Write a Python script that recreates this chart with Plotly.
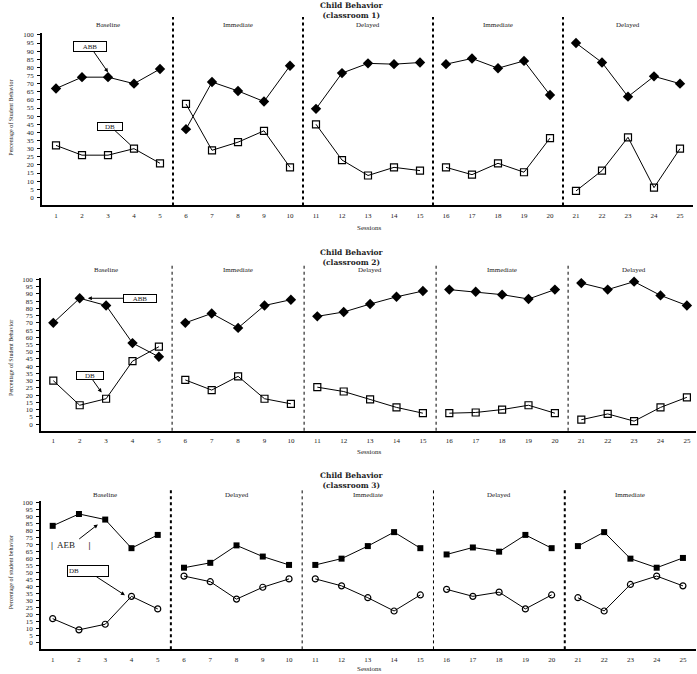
import plotly.graph_objects as go

W, H = 697, 674

sessions = list(range(1, 26))
phase_len = [5, 5, 5, 5, 5]
ytick_vals = list(range(0, 101, 5))

# Classroom 1
c1_phases = ["Baseline", "Immediate", "Delayed", "Immediate", "Delayed"]
c1_abb = [67, 74, 74, 70, 79, 42, 71, 65.5, 59, 81, 54.5, 76.5, 82.5, 82, 83,
          82, 85.5, 79.5, 84, 63, 95, 83, 62, 74.5, 70]
c1_db = [32, 26, 26, 30, 21, 57.5, 29, 34, 41, 18.5, 45, 23, 13.5, 18.5, 16.5,
         18.5, 14, 21, 15.5, 36.5, 4, 16.5, 37, 6, 30]

# Classroom 2
c2_phases = ["Baseline", "Immediate", "Delayed", "Immediate", "Delayed"]
c2_abb = [70, 87, 82, 56, 46.5, 70, 76.5, 66.5, 82, 86, 74.5, 77.5, 83, 88, 92,
          93, 91.5, 89.5, 86.5, 93, 97.5, 93, 98.5, 89, 82]
c2_db = [30, 13, 17.5, 43.5, 53.5, 30.5, 23.5, 33, 17.5, 14, 25.5, 22.5, 17, 11.5, 7.5,
         7.5, 8, 10, 13, 7.5, 3, 7, 2, 11.5, 18.5]

# Classroom 3
c3_phases = ["Baseline", "Delayed", "Immediate", "Delayed", "Immediate"]
c3_abb = [83.5, 92, 88, 67.5, 77, 53.5, 57, 69.5, 61.5, 55.5, 55.5, 60, 69, 79, 67.5,
          63, 68, 65, 77, 67.5, 69, 79, 60, 53.5, 60.5]
c3_db = [17, 9, 13, 33, 24, 47.5, 43.5, 31, 39.5, 45.5, 45.5, 40.5, 32, 22.5, 34,
         38, 33, 36, 24, 34, 32, 22.5, 41.5, 47.5, 40.5]

SERIF = "Liberation Serif"
TSERIF = "DejaVu Serif"

panels = [
    dict(abb=c1_abb, db=c1_db, phases=c1_phases, room="(classroom 1)",
         x0=42, x1=693, s1=56, ds=26, y0=196, ppu=1.63, ybot=204,
         abb_sym="diamond", abb_size=8, db_sym="square-open", db_size=7,
         div_top=15, title_y=9, phase_y=23, sess_y=227,
         div_w=[2, 2, 2, 2], ytitle="Percentage of Student Behavior", ytitle_y=116),
    dict(abb=c2_abb, db=c2_db, phases=c2_phases, room="(classroom 2)",
         x0=41, x1=696, s1=53.3, ds=26.4, y0=423.3, ppu=1.45, ybot=430,
         abb_sym="diamond", abb_size=8, db_sym="square-open", db_size=7,
         div_top=263, title_y=256, phase_y=269, sess_y=451,
         div_w=[1, 1, 1, 1], ytitle="Percentage of Student Behavior", ytitle_y=357),
    dict(abb=c3_abb, db=c3_db, phases=c3_phases, room="(classroom 3)",
         x0=41, x1=696, s1=52.7, ds=26.26, y0=642.3, ppu=1.4, ybot=649.3,
         abb_sym="square", abb_size=6, db_sym="circle-open", db_size=6,
         div_top=487, title_y=480, phase_y=494, sess_y=669,
         div_w=[2, 1, 1, 2], ytitle="Percentage of student behavior", ytitle_y=572),
]

fig = go.Figure()
annotations = []
shapes = []

def px(x):
    return x / W

def py(y):
    return 1 - y / H

for i, p in enumerate(panels, start=1):
    sfx = "" if i == 1 else str(i)
    xr = [1 + (p["x0"] - p["s1"]) / p["ds"], 1 + (p["x1"] - p["s1"]) / p["ds"]]
    ymin = -(p["ybot"] - p["y0"]) / p["ppu"]
    ymax = 101
    ytop_px = p["y0"] - ymax * p["ppu"]
    xa = "x" + sfx
    ya = "y" + sfx

    start = 0
    bounds = []
    for n in phase_len:
        bounds.append((start, start + n))
        start += n

    for (a, b) in bounds:
        fig.add_trace(go.Scatter(x=sessions[a:b], y=p["abb"][a:b], mode="lines+markers",
                                 line=dict(color="black", width=1),
                                 marker=dict(symbol=p["abb_sym"], size=p["abb_size"], color="black"),
                                 xaxis=xa, yaxis=ya, showlegend=False, cliponaxis=False))
        fig.add_trace(go.Scatter(x=sessions[a:b], y=p["db"][a:b], mode="lines+markers",
                                 line=dict(color="black", width=1),
                                 marker=dict(symbol=p["db_sym"], size=p["db_size"], color="black",
                                             line=dict(width=1.2)),
                                 xaxis=xa, yaxis=ya, showlegend=False, cliponaxis=False))

    fig.layout["xaxis" + sfx] = dict(
        domain=[px(p["x0"]), px(p["x1"])], range=xr, anchor=ya,
        tickvals=sessions, ticks="", showgrid=False, zeroline=False,
        showline=True, linecolor="black", linewidth=1.5,
        tickfont=dict(family=SERIF, size=7, color="#222"), ticklabelstandoff=2)
    fig.layout["yaxis" + sfx] = dict(
        domain=[py(p["ybot"]), py(ytop_px)], range=[ymin, ymax], anchor=xa,
        tickvals=ytick_vals, ticks="outside", ticklen=3, tickcolor="black",
        showgrid=False, zeroline=False, showline=True, linecolor="black", linewidth=1.5,
        tickfont=dict(family=SERIF, size=7, color="#222"), ticklabelstandoff=2)

    # phase dividers and labels
    for k, (a, b) in enumerate(bounds):
        annotations.append(dict(x=(sessions[a] + sessions[b - 1]) / 2, y=py(p["phase_y"]),
                                xref=xa, yref="paper",
                                text=p["phases"][k], showarrow=False,
                                font=dict(family=SERIF, size=7, color="#222"),
                                xanchor="center", yanchor="middle"))
        if k < len(bounds) - 1:
            xd = (sessions[b - 1] + sessions[b]) / 2
            shapes.append(dict(type="line", xref=xa, yref="paper",
                               x0=xd, x1=xd, y0=py(p["ybot"]), y1=py(p["div_top"]),
                               line=dict(color="black", width=p["div_w"][k], dash="dot")))
    # titles
    annotations.append(dict(x=px(352), y=py(p["title_y"]), xref="paper", yref="paper",
                            text="<b>Child Behavior</b><br><b>" + p["room"] + "</b>",
                            showarrow=False,
                            font=dict(family=TSERIF, size=7.5, color="#222"),
                            xanchor="center", yanchor="middle"))
    annotations.append(dict(x=px(369), y=py(p["sess_y"]), xref="paper", yref="paper",
                            text="Sessions", showarrow=False,
                            font=dict(family=SERIF, size=7, color="#222"),
                            xanchor="center", yanchor="middle"))
    annotations.append(dict(x=px(11), y=py(p["ytitle_y"]), xref="paper", yref="paper",
                            text=p["ytitle"], showarrow=False, textangle=-90,
                            font=dict(family=SERIF, size=6, color="#222"),
                            xanchor="center", yanchor="middle"))

# series labels with arrows
box = dict(bordercolor="black", borderwidth=1, bgcolor="white",
           font=dict(family=SERIF, size=7, color="#222"),
           arrowcolor="black", arrowwidth=1, arrowsize=0.8)
annotations += [
    dict(x=3, y=77, xref="x", yref="y", text="ABB", ax=-18, ay=-26, showarrow=True,
         arrowhead=2, width=30, height=7, **box),
    dict(x=3.85, y=32.5, xref="x", yref="y", text="DB", ax=-20, ay=-18.5, showarrow=True,
         arrowhead=0, width=22, height=5, **box),
    dict(x=2.31, y=87, xref="x2", yref="y2", text="ABB", ax=52, ay=0, showarrow=True,
         arrowhead=2, width=30, height=5, **box),
    dict(x=2.83, y=21.8, xref="x2", yref="y2", text="DB", ax=-12, ay=-17, showarrow=True,
         arrowhead=2, width=24, height=5, **box),
    dict(x=3.75, y=33.8, xref="x3", yref="y3", text="DB", ax=-37, ay=-24, showarrow=True,
         arrowhead=2, width=38, height=8, align="left", **box),
]
annotations.append(dict(x=2.72, y=84.5, xref="x3", yref="y3",
                        text="<b>|</b>  AEB      <b>|</b>", ax=-27, ay=21, showarrow=True,
                        arrowhead=2, arrowcolor="black", arrowwidth=1, arrowsize=0.8,
                        font=dict(family=SERIF, size=9, color="#222"), bgcolor="rgba(0,0,0,0)"))

fig.update_layout(width=W, height=H, margin=dict(l=0, r=0, t=0, b=0),
                  paper_bgcolor="white", plot_bgcolor="white",
                  annotations=annotations, shapes=shapes)

fig.write_html("out.html")
